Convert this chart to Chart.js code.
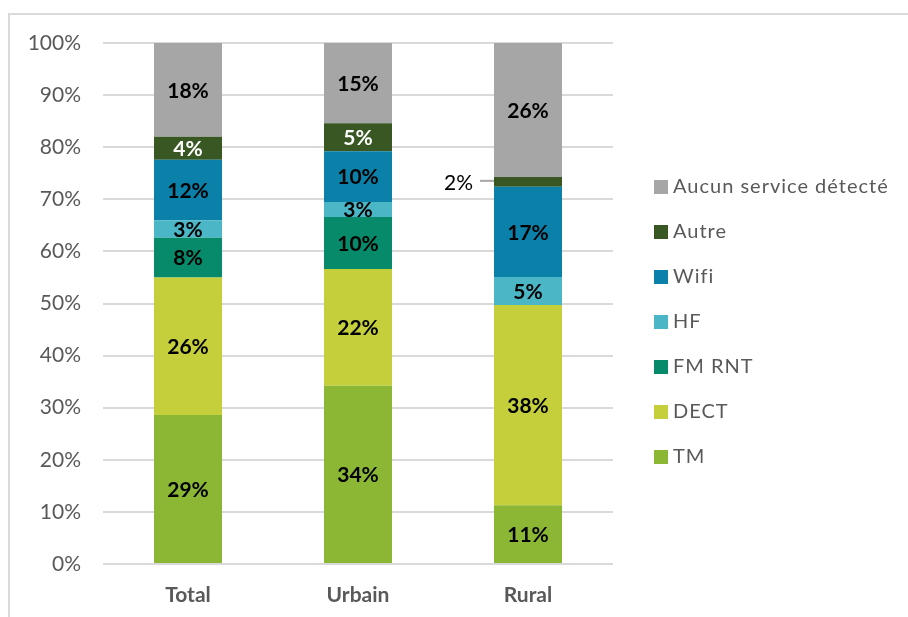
<!DOCTYPE html>
<html lang="fr">
<head>
  <meta charset="UTF-8">
  <title>Services détectés</title>
  <script src="https://cdn.jsdelivr.net/npm/chart.js"></script>
  <style>
    body {
      margin: 0;
      padding: 0;
      background-color: #fff;
      font-family: Lato, "Open Sans", sans-serif;
    }
    .cadre {
      position: absolute;
      left: 8px;
      top: 13px;
      width: 920px;
      height: 620px;
      border-left: 2px solid #d9d9d9;
      border-top: 2px solid #d9d9d9;
    }
    .zone {
      position: absolute;
      left: 0;
      top: 0;
      width: 908px;
      height: 617px;
    }
    #legende {
      position: absolute;
      left: 654px;
      top: 163px;
      margin: 0;
      padding: 0;
      list-style: none;
      color: #595959;
      font-size: 20px;
      letter-spacing: 1px;
    }
    #legende li {
      height: 45px;
      line-height: 45px;
      white-space: nowrap;
    }
    #legende span {
      display: inline-block;
      width: 14px;
      height: 14px;
      margin-right: 5px;
      vertical-align: -1px;
    }
  </style>
</head>
<body>
  <div class="cadre"></div>
  <div class="zone"><canvas id="graphique"></canvas></div>
  <ul id="legende"></ul>

  <script>
    // Données (en % par zone)
    const categories = ['Total', 'Urbain', 'Rural'];
    const tm = [28.6, 34.2, 11.3];
    const dect = [26.4, 22.4, 38.4];
    const fmRnt = [7.6, 10.0, 0];
    const hf = [3.4, 2.9, 5.4];
    const wifi = [11.6, 9.7, 17.3];
    const autre = [4.4, 5.4, 1.9];
    const aucun = [18.0, 15.4, 25.7];
    const yTicks = [0, 10, 20, 30, 40, 50, 60, 70, 80, 90, 100];

    const series = [
      { label: 'TM', data: tm, color: '#8bb735', text: '#000' },
      { label: 'DECT', data: dect, color: '#c4cf3b', text: '#000' },
      { label: 'FM RNT', data: fmRnt, color: '#078a69', text: '#000' },
      { label: 'HF', data: hf, color: '#4ab6c6', text: '#000' },
      { label: 'Wifi', data: wifi, color: '#0b80a8', text: '#000' },
      { label: 'Autre', data: autre, color: '#385723', text: '#fff' },
      { label: 'Aucun service détecté', data: aucun, color: '#a6a6a6', text: '#000' }
    ];

    // Étiquettes de valeurs sur les barres
    const etiquettes = {
      id: 'etiquettes',
      afterDatasetsDraw(chart) {
        const ctx = chart.ctx;
        ctx.save();
        ctx.font = 'bold 21px Lato, sans-serif';
        ctx.textBaseline = 'middle';
        chart.data.datasets.forEach((ds, i) => {
          const meta = chart.getDatasetMeta(i);
          meta.data.forEach((bar, j) => {
            const v = ds.data[j];
            if (!v) return;
            const txt = Math.round(v) + '%';
            const yc = (bar.y + bar.base) / 2;
            const h = Math.abs(bar.base - bar.y);
            if (h < 12) {
              // trop petit : étiquette à gauche avec trait
              const left = bar.x - bar.width / 2;
              ctx.strokeStyle = '#a6a6a6';
              ctx.lineWidth = 2;
              ctx.beginPath();
              ctx.moveTo(left - 14, yc - 1);
              ctx.lineTo(left, yc - 1);
              ctx.stroke();
              ctx.fillStyle = '#000';
              ctx.textAlign = 'right';
              ctx.font = '21px Lato, sans-serif';
              ctx.fillText(txt, left - 21, yc + 1);
              ctx.font = 'bold 21px Lato, sans-serif';
            } else {
              ctx.fillStyle = series[i].text;
              ctx.textAlign = 'center';
              ctx.fillText(txt, bar.x, yc + 1);
            }
          });
        });
        ctx.restore();
      }
    };

    const ctx = document.getElementById('graphique').getContext('2d');
    const graphique = new Chart(ctx, {
      type: 'bar',
      data: {
        labels: categories,
        datasets: series.map(s => ({
          label: s.label,
          data: s.data,
          backgroundColor: s.color,
          borderWidth: 0,
          categoryPercentage: 1,
          barPercentage: 0.4
        }))
      },
      options: {
        responsive: true,
        maintainAspectRatio: false,
        animation: false,
        layout: { padding: { top: 43, right: 295, bottom: 0, left: 0 } },
        plugins: {
          legend: { display: false },
          tooltip: { enabled: false }
        },
        scales: {
          x: {
            stacked: true,
            grid: { display: false },
            border: { display: false },
            ticks: {
              color: '#595959',
              font: { family: 'Lato', size: 21, weight: 'bold' },
              padding: 11
            },
            afterFit: s => { s.height = 53; }
          },
          y: {
            stacked: true,
            min: 0,
            max: 100,
            afterBuildTicks: s => { s.ticks = yTicks.map(v => ({ value: v })); },
            grid: { color: '#d9d9d9', lineWidth: 2, drawTicks: false },
            border: { display: false },
            ticks: {
              color: '#595959',
              font: { family: 'Lato', size: 21 },
              padding: 22,
              callback: v => v + '%'
            },
            afterFit: s => { s.width = 103; }
          }
        }
      },
      plugins: [etiquettes]
    });

    // Légende (ordre inversé, comme dans Excel)
    const legende = document.getElementById('legende');
    series.slice().reverse().forEach(s => {
      const li = document.createElement('li');
      li.innerHTML = `<span style="background:${s.color}"></span>${s.label}`;
      legende.appendChild(li);
    });
  </script>
</body>
</html>
